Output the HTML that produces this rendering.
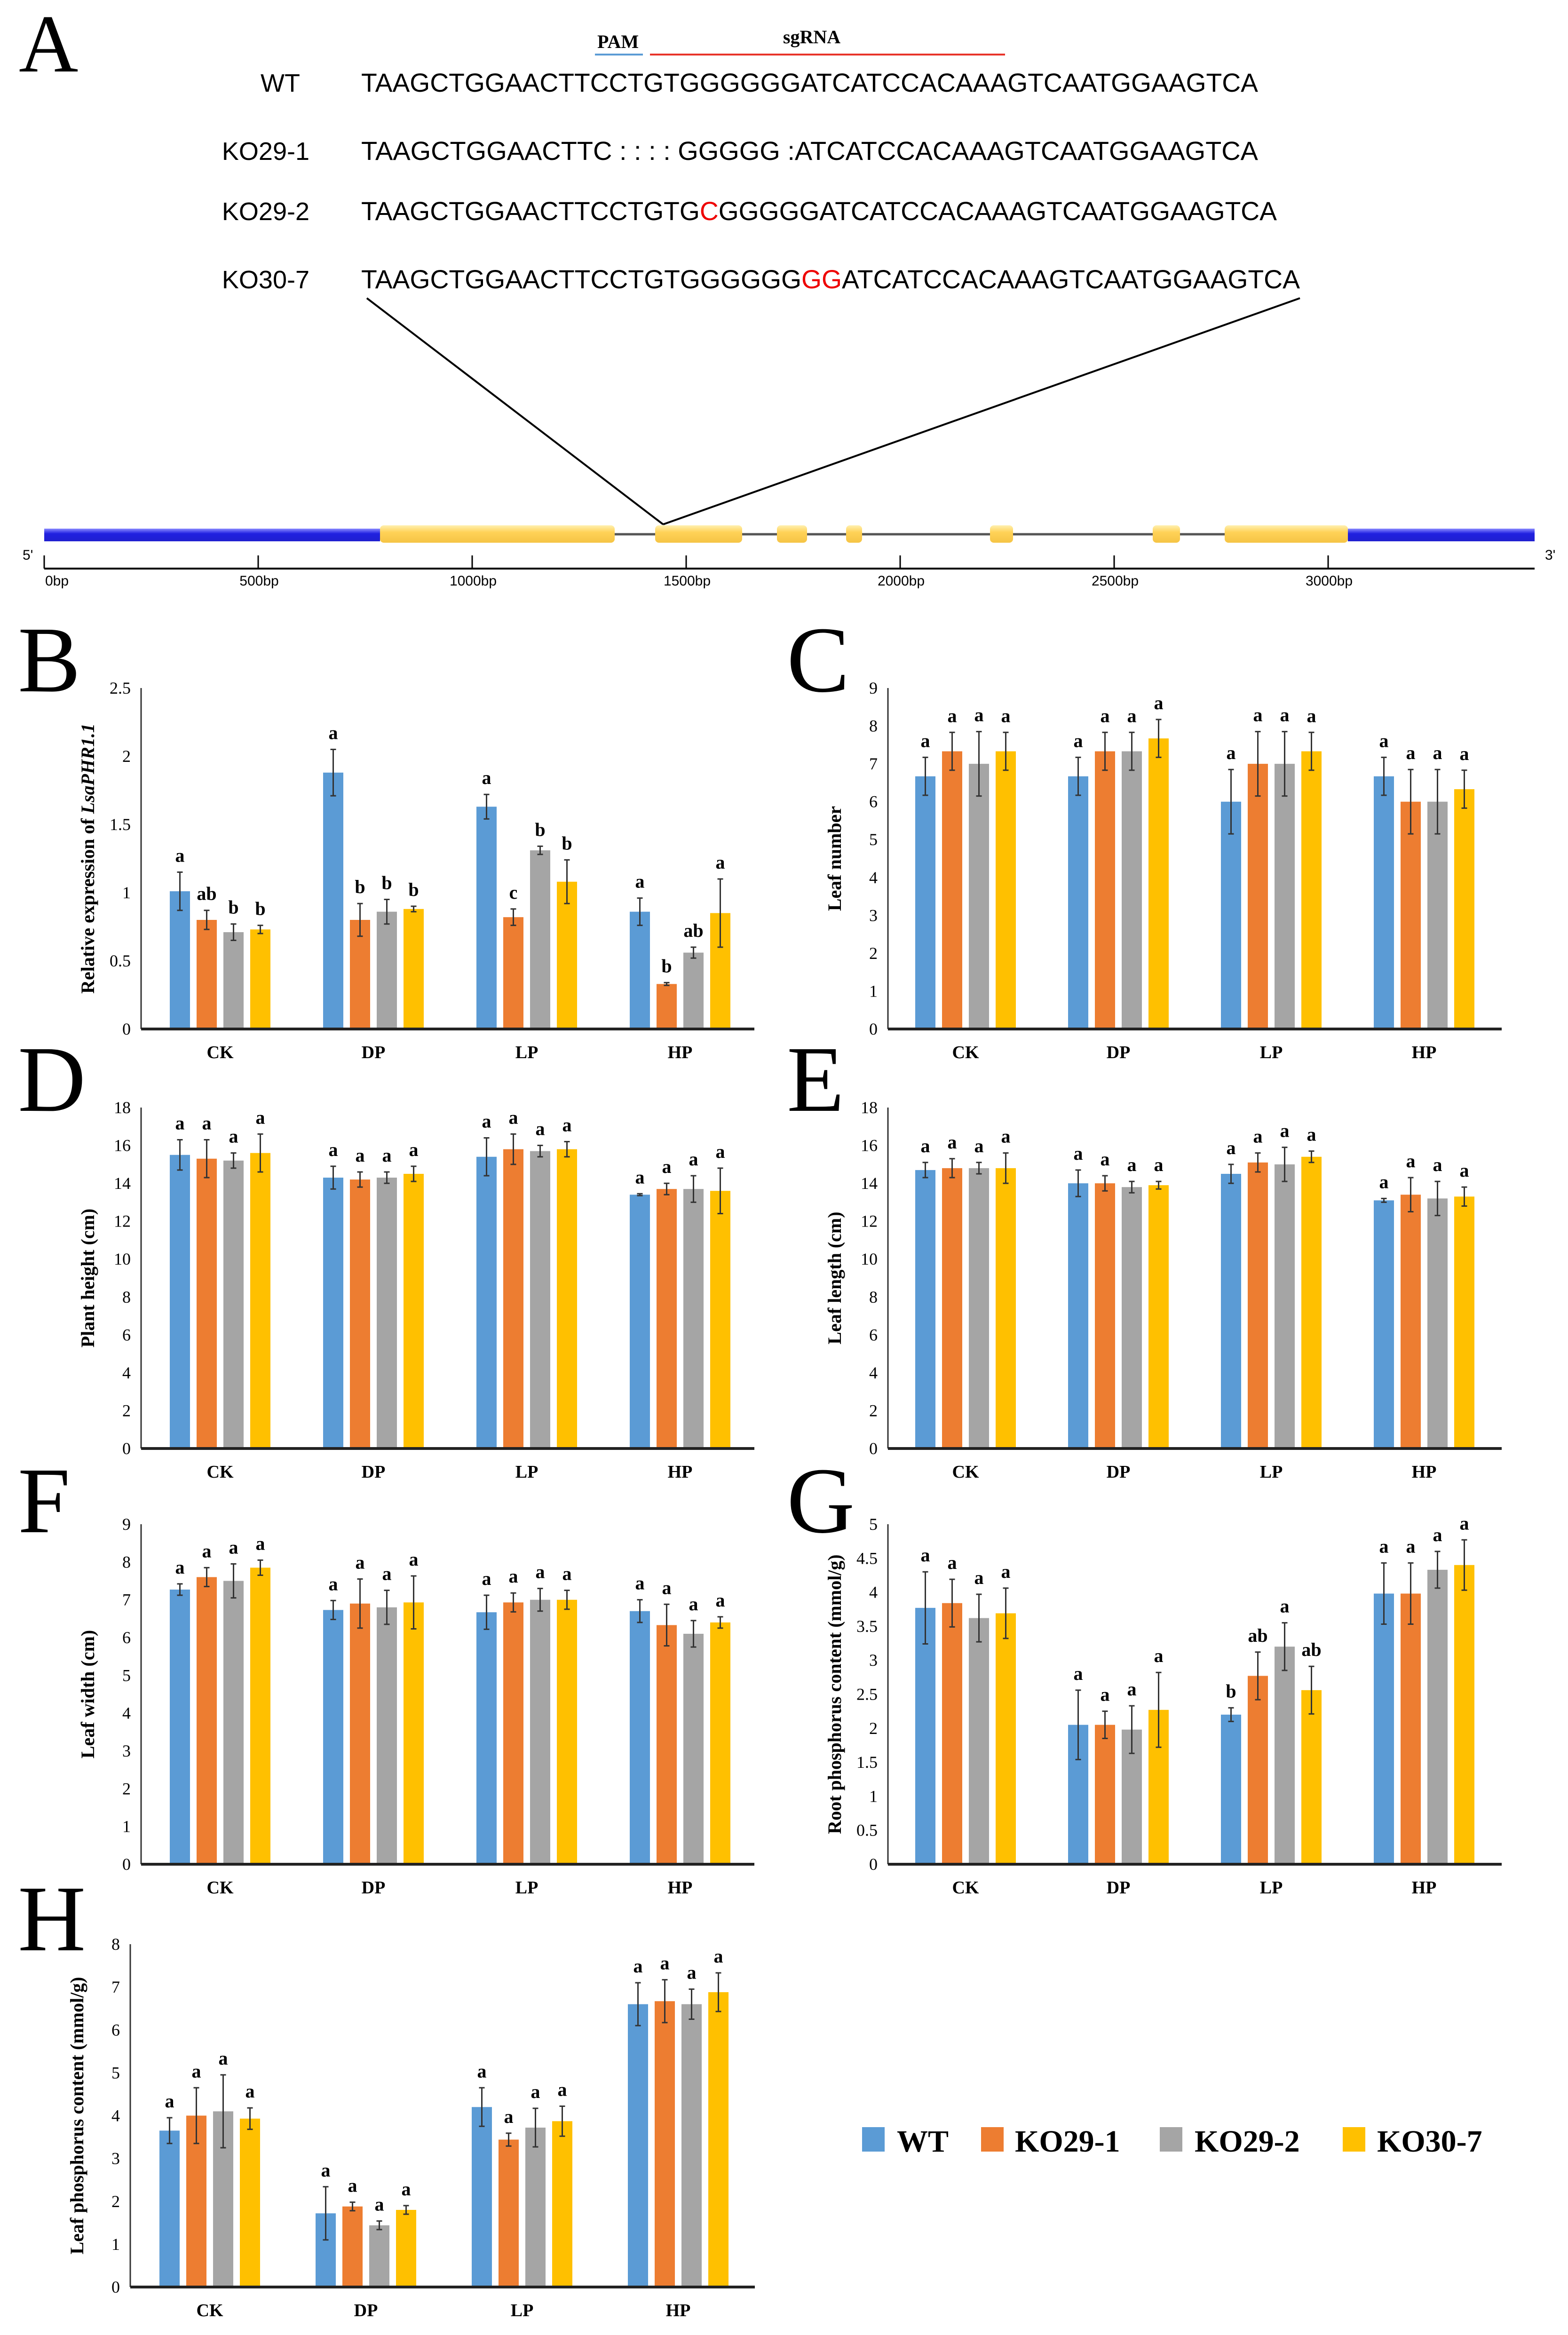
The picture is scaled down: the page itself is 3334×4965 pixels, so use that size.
<!DOCTYPE html>
<html><head><meta charset="utf-8"><style>
html,body{margin:0;padding:0;background:#fff;}
svg{display:block;}
.seq{font-family:"Liberation Sans",sans-serif;font-size:56px;fill:#000;}
.lab{font-family:"Liberation Sans",sans-serif;font-size:54px;fill:#000;}
.pl{font-family:"Liberation Serif",serif;fill:#000;}
.tk{font-family:"Liberation Serif",serif;font-size:36px;fill:#000;}
.cat{font-family:"Liberation Serif",serif;font-size:38px;font-weight:bold;fill:#000;}
.sig{font-family:"Liberation Serif",serif;font-size:40px;font-weight:bold;fill:#000;}
.yt{font-family:"Liberation Serif",serif;font-size:40px;font-weight:bold;fill:#000;}
.bp{font-family:"Liberation Sans",sans-serif;font-size:30px;fill:#000;}
.leg{font-family:"Liberation Serif",serif;font-size:66px;font-weight:bold;fill:#000;}
</style></head><body>
<svg id="fig" xmlns="http://www.w3.org/2000/svg" width="3334" height="4965" viewBox="0 0 3334 4965">
<rect width="3334" height="4965" fill="#fff"/>
<!-- Panel A -->
<g>
<text class="pl" x="40" y="152" font-size="175">A</text>
<text class="pl" x="1270" y="102" font-size="40" font-weight="bold">PAM</text>
<text class="pl" x="1726" y="92" font-size="40" font-weight="bold" text-anchor="middle">sgRNA</text>
<line x1="1265" y1="116" x2="1367" y2="116" stroke="#5b9bd5" stroke-width="4"/>
<line x1="1382" y1="116" x2="2137" y2="116" stroke="#e8342a" stroke-width="4"/>
<text class="lab" x="638" y="195" text-anchor="end">WT</text>
<text class="seq" x="768" y="195" textLength="1907" lengthAdjust="spacingAndGlyphs">TAAGCTGGAACTTCCTGTGGGGGGATCATCCACAAAGTCAATGGAAGTCA</text>
<text class="lab" x="658" y="340" text-anchor="end">KO29-1</text>
<text class="seq" x="768" y="340" textLength="1907" lengthAdjust="spacingAndGlyphs">TAAGCTGGAACTTC : : : : GGGGG :ATCATCCACAAAGTCAATGGAAGTCA</text>
<text class="lab" x="658" y="468" text-anchor="end">KO29-2</text>
<text class="seq" x="768" y="468" textLength="1947" lengthAdjust="spacingAndGlyphs">TAAGCTGGAACTTCCTGTG<tspan fill="#e00">C</tspan>GGGGGATCATCCACAAAGTCAATGGAAGTCA</text>
<text class="lab" x="658" y="613" text-anchor="end">KO30-7</text>
<text class="seq" x="768" y="613" textLength="1996" lengthAdjust="spacingAndGlyphs">TAAGCTGGAACTTCCTGTGGGGGG<tspan fill="#e00">GG</tspan>ATCATCCACAAAGTCAATGGAAGTCA</text>
<line x1="780" y1="634" x2="1410" y2="1115" stroke="#000" stroke-width="4"/>
<line x1="2764" y1="634" x2="1410" y2="1115" stroke="#000" stroke-width="4"/>
<line x1="808" y1="1136" x2="2866" y2="1136" stroke="#555" stroke-width="5"/>
<defs>
<linearGradient id="bl" x1="0" y1="0" x2="0" y2="1"><stop offset="0" stop-color="#8a8aff"/><stop offset="0.4" stop-color="#2020e0"/><stop offset="1" stop-color="#2020d0"/></linearGradient>
<linearGradient id="yl" x1="0" y1="0" x2="0" y2="1"><stop offset="0" stop-color="#fff0b0"/><stop offset="0.4" stop-color="#ffd257"/><stop offset="1" stop-color="#f5c445"/></linearGradient>
</defs>
<rect x="94" y="1124" width="714" height="27" fill="url(#bl)"/>
<rect x="2866" y="1124" width="397" height="27" fill="url(#bl)"/>
<g fill="url(#yl)">
<rect x="808" y="1117" width="499" height="37" rx="8"/>
<rect x="1393" y="1117" width="185" height="37" rx="8"/>
<rect x="1652" y="1117" width="64" height="37" rx="8"/>
<rect x="1799" y="1117" width="34" height="37" rx="8"/>
<rect x="2105" y="1117" width="49" height="37" rx="8"/>
<rect x="2451" y="1117" width="58" height="37" rx="8"/>
<rect x="2604" y="1117" width="262" height="37" rx="8"/>
</g>
<text class="bp" x="48" y="1190">5'</text>
<text class="bp" x="3285" y="1190">3'</text>
<line x1="94" y1="1209" x2="3263" y2="1209" stroke="#000" stroke-width="4"/>
<g id="bpticks"></g>
</g>
<g id="charts"></g>
<!-- Legend -->
<g>
<rect x="1833" y="4523" width="48" height="52" fill="#5b9bd5"/>
<text class="leg" x="1907" y="4575">WT</text>
<rect x="2086" y="4523" width="48" height="52" fill="#ed7d31"/>
<text class="leg" x="2158" y="4575">KO29-1</text>
<rect x="2466" y="4523" width="48" height="52" fill="#a5a5a5"/>
<text class="leg" x="2540" y="4575">KO29-2</text>
<rect x="2855" y="4523" width="48" height="52" fill="#ffc000"/>
<text class="leg" x="2928" y="4575">KO30-7</text>
</g>
</svg>
<script>
const NS="http://www.w3.org/2000/svg";
const categories=["CK","DP","LP","HP"];
const seriesNames=["WT","KO29-1","KO29-2","KO30-7"];
const bpLabels=["0bp","500bp","1000bp","1500bp","2000bp","2500bp","3000bp"];
// Panel B
const bVals=[[1.01,0.80,0.71,0.73],[1.88,0.80,0.86,0.88],[1.63,0.82,1.31,1.08],[0.86,0.33,0.56,0.85]];
const bErr=[[0.14,0.07,0.06,0.03],[0.17,0.12,0.09,0.02],[0.09,0.06,0.03,0.16],[0.10,0.01,0.04,0.25]];
const bSig=[["a","ab","b","b"],["a","b","b","b"],["a","c","b","b"],["a","b","ab","a"]];
const bTicks=["0","0.5","1","1.5","2","2.5"];
// Panel C
const cVals=[[6.67,7.33,7.0,7.33],[6.67,7.33,7.33,7.67],[6.0,7.0,7.0,7.33],[6.67,6.0,6.0,6.33]];
const cErr=[[0.5,0.5,0.85,0.5],[0.5,0.5,0.5,0.5],[0.85,0.85,0.85,0.5],[0.5,0.85,0.85,0.5]];
const cTicks=["0","1","2","3","4","5","6","7","8","9"];
// Panel D
const dVals=[[15.5,15.3,15.2,15.6],[14.3,14.2,14.3,14.5],[15.4,15.8,15.7,15.8],[13.4,13.7,13.7,13.6]];
const dErr=[[0.8,1.0,0.4,1.0],[0.6,0.4,0.3,0.4],[1.0,0.8,0.3,0.4],[0.05,0.3,0.7,1.2]];
const dTicks=["0","2","4","6","8","10","12","14","16","18"];
// Panel E
const eVals=[[14.7,14.8,14.8,14.8],[14.0,14.0,13.8,13.9],[14.5,15.1,15.0,15.4],[13.1,13.4,13.2,13.3]];
const eErr=[[0.4,0.5,0.3,0.8],[0.7,0.4,0.3,0.2],[0.5,0.5,0.9,0.3],[0.1,0.9,0.9,0.5]];
const eTicks=["0","2","4","6","8","10","12","14","16","18"];
// Panel F
const fVals=[[7.27,7.6,7.5,7.85],[6.73,6.9,6.8,6.93],[6.67,6.93,7.0,7.0],[6.7,6.33,6.1,6.4]];
const fErr=[[0.15,0.25,0.45,0.2],[0.25,0.65,0.45,0.7],[0.45,0.25,0.3,0.25],[0.3,0.55,0.35,0.15]];
const fTicks=["0","1","2","3","4","5","6","7","8","9"];
// Panel G
const gVals=[[3.77,3.84,3.62,3.69],[2.05,2.05,1.98,2.27],[2.2,2.77,3.2,2.56],[3.98,3.98,4.33,4.4]];
const gErr=[[0.53,0.35,0.35,0.37],[0.51,0.2,0.35,0.55],[0.1,0.35,0.35,0.35],[0.45,0.45,0.27,0.37]];
const gSig=[["a","a","a","a"],["a","a","a","a"],["b","ab","a","ab"],["a","a","a","a"]];
const gTicks=["0","0.5","1","1.5","2","2.5","3","3.5","4","4.5","5"];
// Panel H
const hVals=[[3.65,4.0,4.1,3.93],[1.72,1.88,1.44,1.8],[4.2,3.44,3.72,3.87],[6.6,6.67,6.6,6.88]];
const hErr=[[0.3,0.65,0.85,0.25],[0.62,0.1,0.1,0.1],[0.45,0.15,0.45,0.35],[0.5,0.5,0.35,0.45]];
const hTicks=["0","1","2","3","4","5","6","7","8"];
const allA=[["a","a","a","a"],["a","a","a","a"],["a","a","a","a"],["a","a","a","a"]];
const colors=["#5b9bd5","#ed7d31","#a5a5a5","#ffc000"];

function mk(tag,attrs,parent,txt){const e=document.createElementNS(NS,tag);for(const k in attrs)e.setAttribute(k,attrs[k]);if(txt!==undefined)e.textContent=txt;parent.appendChild(e);return e;}

// bp ticks
const bpg=document.getElementById('bpticks');
bpLabels.forEach((l,i)=>{const x=94+i*455;
 const t=mk('line',{x1:x,y1:1181,x2:x,y2:1209,stroke:'#000','stroke-width':3},bpg);
 
 
 const tx=mk('text',{x:x+2,y:1245,class:'bp','text-anchor':i==0?'start':'middle'},bpg,l);
 
 
});

function chart(o){
 const g=mk('g',{},document.getElementById('charts'));
 
 
 const maxV=parseFloat(o.ticks[o.ticks.length-1]);
 const y=v=>o.zero-(v/maxV)*(o.zero-o.top);
 const groupX=i=>o.g0+i*o.gs;
 const barW=43, step=57;
 const L=mk('text',{x:o.lx,y:o.ly,class:'pl','font-size':200},g,o.id.toUpperCase());
 
 
 // ticks
 o.ticks.forEach(t=>{const v=parseFloat(t);
  const tt=mk('text',{x:o.ax-22,y:y(v)+12,class:'tk','text-anchor':'end'},g,t);
  
  
 });
 // title
 const ti=mk('text',{class:'yt','text-anchor':'middle',transform:`translate(${o.ax-100},${(o.top+o.zero)/2}) rotate(-90)`},g);
 
 
 if(o.italic){ti.textContent=o.title;const ts=mk('tspan',{'font-style':'italic'},ti,o.italic);}
 else ti.textContent=o.title;
 // bars
 categories.forEach((c,ci)=>{
  const cx=groupX(ci);
  seriesNames.forEach((s,si)=>{
   const v=o.vals[ci][si], e=o.err[ci][si];
   const bx=cx-2*step+si*step+(step-barW)/2;
   const r=mk('rect',{x:bx,y:y(v),width:barW,height:o.zero-y(v),fill:colors[si]},g);
   
   
   const mx=bx+barW/2;
   const eb=mk('path',{d:`M${mx},${y(v+e)}V${y(v-e)}M${mx-6},${y(v+e)}H${mx+6}M${mx-6},${y(v-e)}H${mx+6}`,stroke:'#333','stroke-width':3,fill:'none'},g);
   
   
   const st=mk('text',{x:mx,y:y(v+e)-22,class:'sig','text-anchor':'middle'},g,o.sig[ci][si]);
   
   
  });
  const cl=mk('text',{x:cx,y:o.zero+62,class:'cat','text-anchor':'middle'},g,c);
  
  
 });
 const ya=mk('line',{x1:o.ax,y1:o.top,x2:o.ax,y2:o.zero,stroke:'#333','stroke-width':3},g);
 
 
 const xa=mk('line',{x1:o.ax,y1:o.zero,x2:o.right,y2:o.zero,stroke:'#222','stroke-width':6},g);
 
 
}
const Lp={ax:300,g0:468,gs:326,right:1604,lx:38};
const Rp={ax:1888,g0:2053,gs:325,right:3193,lx:1673};
chart(Object.assign({id:'b',top:1463,zero:2188,ly:1470,vals:bVals,err:bErr,sig:bSig,ticks:bTicks,title:'Relative expression of ',italic:'LsaPHR1.1'},Lp));
chart(Object.assign({id:'c',top:1463,zero:2188,ly:1470,vals:cVals,err:cErr,sig:allA,ticks:cTicks,title:'Leaf number'},Rp));
chart(Object.assign({id:'d',top:2355,zero:3080,ly:2362,vals:dVals,err:dErr,sig:allA,ticks:dTicks,title:'Plant height (cm)'},Lp));
chart(Object.assign({id:'e',top:2355,zero:3080,ly:2362,vals:eVals,err:eErr,sig:allA,ticks:eTicks,title:'Leaf length (cm)'},Rp));
chart(Object.assign({id:'f',top:3241,zero:3964,ly:3258,vals:fVals,err:fErr,sig:allA,ticks:fTicks,title:'Leaf width (cm)'},Lp));
chart(Object.assign({id:'g',top:3241,zero:3964,ly:3258,vals:gVals,err:gErr,sig:gSig,ticks:gTicks,title:'Root phosphorus content (mmol/g)'},Rp));
chart(Object.assign({id:'h',top:4134,zero:4863,ly:4147,vals:hVals,err:hErr,sig:allA,ticks:hTicks,title:'Leaf phosphorus content (mmol/g)'},{ax:277,g0:446,gs:332,right:1605,lx:38}));
</script>
</body></html>
